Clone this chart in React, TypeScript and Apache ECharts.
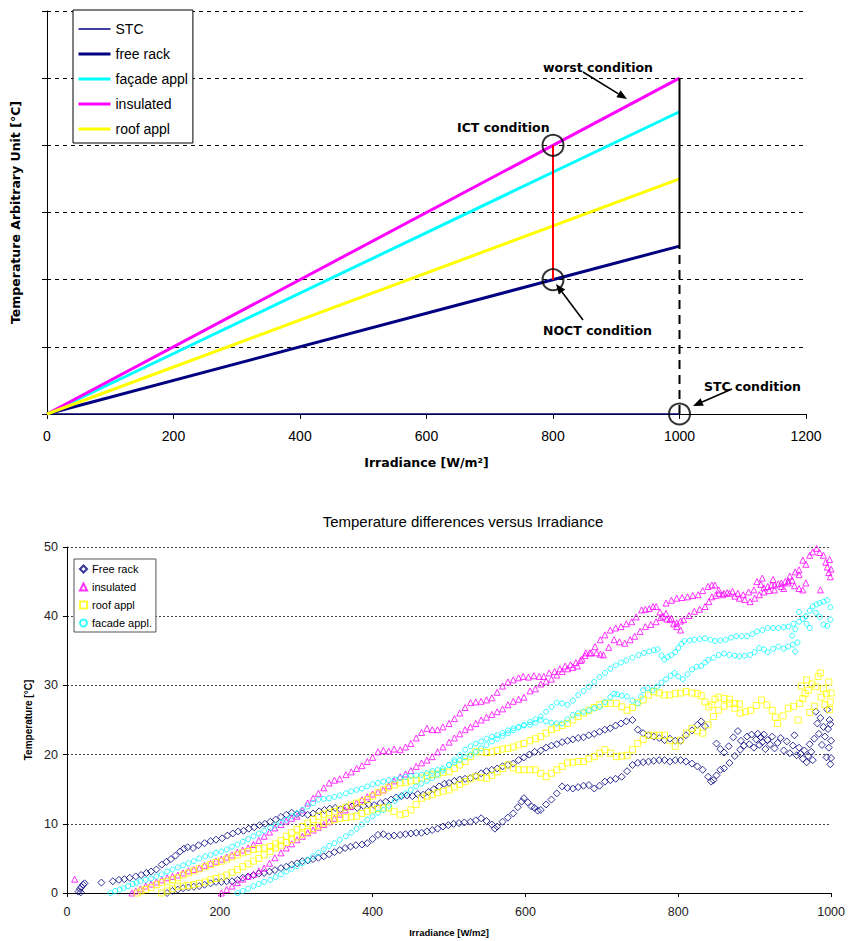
import React, { useEffect, useRef } from "react";
import * as echarts from "echarts";

// ---------- upper chart: idealised temperature rise vs irradiance ----------
const topIrradiance = [0, 1000];
const stcRise = [0, 0];
const freeRackRise = [0, 2.5];
const facadeRise = [0, 4.5];
const insulatedRise = [0, 5];
const roofRise = [0, 3.5];

const ictPoint = [800, 4];
const noctPoint = [800, 2];
const stcPoint = [1000, 0];
const worstPoint = [1000, 5];
const rackAtFullSun = [1000, 2.5];

const topLegendNames = ["STC", "free rack", "façade appl", "insulated", "roof appl"];
const topLegendWidths = [1.5, 3, 3, 3, 3];

// ---------- lower chart: measured temperature differences ----------
type Pt = [number, number];

const freeRackMorning: Pt[] = [
  [15,0.2],[17,0.6],[19,0.9],[21,1.2],[23,1.4],[18,0.1],[45,1.5],
  [60,1.7],[68,1.9],[75,2.0],[82,2.2],[90,2.4],[97,2.6],[104,2.9],[110,3.1],[117,3.4],[124,4.1],[130,4.5],
  [136,4.9],[142,5.4],[148,6.0],[153,6.4],[158,6.6],[165,6.5],[172,6.9],[180,7.2],[188,7.5],[195,7.7],
  [203,7.9],[210,8.3],[217,8.6],[224,8.9],[231,9.0],[238,9.3],[245,9.5],[252,9.8],[259,10.0],[266,10.3],
  [273,10.6],[280,11.0],[287,11.3],[294,11.6],[301,11.4],[308,11.5],[315,11.3],[322,11.5],[330,11.8],
  [337,12.0],[344,12.2],[351,12.3],[358,12.1],[366,12.4],[373,12.5],[380,12.3],[388,12.6],[395,12.8],
  [402,12.7],[410,13.0],[417,13.2],[424,13.5],[431,13.8],[438,14.0],[445,14.1],[452,14.0],[459,14.3],
  [466,14.2],[473,14.6],[480,15.0],[487,15.4],[494,15.8],[500,15.9],[507,16.2],[514,16.4],[521,16.5],
  [528,16.6],[535,16.9],[542,17.3],[549,17.6],[556,17.8],[563,18.0],[570,18.3],[577,18.5],[584,18.7],
  [591,19.2],[598,19.6],[605,20.0],[612,20.4],[620,20.6],[627,21.0],[634,21.3],[641,21.5],[648,21.8],
  [655,22.0],[662,22.2],[669,22.4],[676,22.5],[683,22.8],[690,23.0],[697,23.3],[704,23.6],[711,23.8],
  [718,24.2],[725,24.5],[732,24.8],[740,25.0],[747,23.6],[754,23.1],[761,22.8],[768,22.6],[775,22.4],
  [782,22.1],[789,22.3],[796,22.0],[803,22.0],[810,22.8],[818,23.5],[825,24.3],[830,24.8],[835,24.1]
];
const freeRackAfternoon: Pt[] = [
  [131,0.0],[138,0.3],[145,0.5],[152,0.7],[159,0.8],[166,0.9],[173,1.0],[180,1.2],[188,1.4],[195,1.6],
  [202,1.6],[209,1.7],[216,1.7],[223,1.9],[230,2.2],[237,2.4],[244,2.6],[251,2.8],[258,2.9],[265,3.1],
  [272,3.3],[280,3.6],[287,3.8],[294,4.1],[301,4.3],[308,4.6],[315,4.7],[322,4.9],[329,5.1],[336,5.3],
  [343,5.6],[350,5.9],[357,6.2],[364,6.5],[371,6.7],[378,6.9],[386,7.0],[393,7.2],[400,7.8],[407,8.4],
  [414,8.5],[421,8.2],[428,8.3],[436,8.4],[443,8.5],[450,8.6],[457,8.7],[464,8.7],[471,8.9],[478,9.1],
  [485,9.3],[492,9.6],[499,9.8],[506,10.0],[513,10.1],[520,10.2],[528,10.3],[535,10.5],[542,10.8],
  [549,10.4],[556,9.9],[560,9.3],[563,9.6],[570,10.3],[577,10.9],[584,11.5],[590,12.4],[595,13.2],
  [598,13.7],[603,13.1],[608,12.5],[612,12.3],[616,11.9],[620,12.0],[627,12.8],[634,13.5],[641,14.4],
  [648,15.4],[655,15.2],[662,15.1],[669,15.3],[676,15.5],[683,15.6],[690,15.1],[697,15.5],[704,16.1],
  [711,16.3],[718,16.5],[726,16.8],[733,17.6],[740,18.5],[747,18.8],[754,18.9],[761,19.0],[768,19.1],
  [775,19.2],[782,19.2],[789,19.0],[796,19.2],[803,19.2],[810,19.0],[818,18.7],[825,18.3],[832,17.8],
  [839,16.8],[843,16.1],[846,16.3],[850,17.0],[855,17.8],[860,18.0],[867,18.8],[874,19.8],[881,20.7]
];
const freeRackNoon: Pt[] = [
  [850,21.6],[855,20.8],[860,20.3],[866,21.2],[872,22.5],[878,23.4],[882,22.0],[886,21.3],[890,22.6],
  [893,21.5],[896,22.9],[899,21.0],[902,22.2],[904,23.0],[906,21.4],[908,22.5],[910,21.8],[912,22.9],
  [914,20.8],[917,22.1],[920,21.5],[923,22.6],[926,20.9],[930,21.7],[934,22.4],[938,20.6],[942,21.9],
  [946,20.2],[950,21.3],[952,22.8],[955,19.9],[958,21.0],[960,20.1],[963,19.4],[965,20.6],[968,18.9],
  [970,19.8],[972,21.5],[974,20.4],[976,19.2],[978,22.3],[980,26.2],[982,24.5],[984,23.0],[986,25.3],
  [988,21.4],[990,24.0],[992,22.6],[994,19.6],[995,26.5],[996,23.7],[997,21.0],[998,25.0],[999,18.6],
  [1000,22.0],[1000,19.5],[999,24.4]
];

const insulatedMorning: Pt[] = [
  [10,2.0],
  [85,0.0],[90,0.3],[96,0.6],[103,1.0],[110,1.3],[117,1.6],[124,1.9],[131,2.2],[138,2.4],[145,2.6],
  [152,2.9],[159,3.2],[166,3.4],[173,3.6],[180,4.0],[188,4.3],[195,4.6],[202,4.9],[209,5.2],[216,5.5],
  [223,5.9],[230,6.2],[237,6.5],[244,7.0],[251,7.6],[258,8.2],[265,8.8],[272,9.4],[280,9.9],[287,10.4],
  [294,10.8],[301,11.1],[308,12.0],[315,13.0],[322,13.7],[329,14.4],[336,15.2],[343,15.9],[350,16.3],
  [357,16.5],[365,17.1],[372,17.5],[379,18.0],[386,18.4],[393,19.0],[400,19.6],[407,20.4],[414,20.6],
  [421,20.5],[428,20.8],[436,20.7],[443,21.1],[450,21.6],[457,22.4],[464,23.2],[471,23.8],[478,23.6],
  [485,23.6],[492,24.0],[500,24.5],[507,25.2],[514,26.0],[521,26.8],[528,27.5],[535,27.6],[542,27.7],
  [549,27.9],[556,28.2],[563,29.0],[570,29.9],[577,30.5],[584,30.8],[591,31.1],[597,31.3],[604,31.2],
  [611,31.4],[618,31.3],[624,31.3],[631,31.8],[638,32.0],[645,32.4],[652,32.8],[659,33.0],[666,33.3],
  [672,33.6],[678,34.3],[684,34.7],[691,35.6],[698,36.6],[704,37.3],[711,38.0],[718,38.3],[725,38.5],
  [732,38.9],[739,39.2],[745,39.9],[752,40.9],[757,41.0],[762,41.1],[767,41.4],[771,41.4],[776,40.6],
  [780,40.0],[785,39.6],[789,39.5],[794,38.9],[798,38.5],[803,38.0]
];
const insulatedNoon: Pt[] = [
  [784,41.9],[791,42.3],[798,42.6],[805,42.7],[812,42.8],[819,43.0],[826,43.1],[832,43.7],[839,44.3],
  [844,44.5],[848,44.5],[853,43.8],[858,43.1],[864,43.4],[871,43.6],[878,43.3],[885,43.1],[892,43.5],
  [899,43.8],[903,45.0],[908,44.6],[912,44.1],[917,44.3],[922,44.5],[926,44.5],[931,44.7],[935,44.8],
  [940,45.0],[944,45.1],[949,45.2],[953,46.4],[958,46.7],[963,48.1],[967,47.5],[972,48.8],[976,49.3],
  [981,49.8],[985,49.2],[990,48.8],[993,47.8],[995,47.1],[997,46.3],[999,45.7],[1000,46.8],[998,48.2],
  [986,43.8],[967,44.8],[958,46.0],[946,45.8],[938,44.0],[924,45.3],[910,45.5]
];
const insulatedAfternoon: Pt[] = [
  [202,0.0],[209,0.5],[216,1.0],[223,1.5],[230,2.0],[237,2.4],[244,2.7],[251,3.2],[258,3.6],[265,4.3],
  [272,5.1],[280,5.8],[287,6.5],[294,7.1],[301,7.7],[308,8.2],[315,8.7],[322,9.1],[329,9.5],[336,9.9],
  [343,10.3],[350,10.8],[357,11.4],[364,12.0],[371,12.5],[379,13.0],[386,13.5],[393,13.9],[400,14.3],
  [407,14.6],[414,14.9],[421,15.5],[428,16.2],[436,16.8],[443,17.2],[450,17.7],[457,18.3],[464,18.8],
  [471,19.2],[478,19.7],[485,20.4],[492,21.1],[500,21.8],[507,22.4],[514,23.0],[521,23.6],[528,24.0],
  [535,24.5],[542,25.0],[549,25.4],[556,25.8],[563,26.2],[570,26.6],[577,27.2],[584,27.7],[591,28.0],
  [598,28.3],[606,29.2],[613,29.5],[620,30.2],[627,30.6],[634,30.9],[641,31.5],[648,32.0],[655,32.4],
  [662,32.6],[668,32.8],[674,33.8],[679,34.7],[686,34.7],[693,34.7],[698,34.5],[702,34.4],[709,35.5],
  [716,36.6],[723,36.3],[730,36.1],[737,36.6],[743,37.1],[750,37.8],[757,38.5],[764,38.8],[771,39.2],
  [777,39.8],[784,40.4],[791,39.7],[798,39.0],[803,39.3],[807,39.5],[814,40.1],[821,40.7],[828,41.0],
  [835,41.4],[840,42.1],[844,42.8],[849,43.0],[853,43.3],[860,43.3],[867,43.3],[874,42.9],[880,42.6],
  [887,42.4],[894,42.1],[900,42.6],[906,43.1],[912,43.5],[919,43.7],[926,43.8],[935,44.3],[944,44.8],
  [952,44.4],[958,44.0],[963,43.8]
];

const roofMorning: Pt[] = [
  [92,0.0],[97,0.3],[103,0.5],[110,0.8],[117,1.2],[124,1.5],[131,1.7],[138,1.9],[145,2.2],[152,2.6],
  [159,2.9],[166,3.2],[173,3.5],[181,3.8],[188,4.1],[195,4.4],[202,4.6],[209,4.9],[216,5.2],[223,5.5],
  [230,5.8],[237,6.0],[244,6.3],[251,6.4],[258,6.5],[266,6.7],[273,7.1],[280,7.6],[287,8.2],[294,8.7],
  [301,9.2],[308,9.6],[315,10.1],[322,10.6],[329,11.1],[336,11.4],[343,11.6],[350,11.8],[357,12.1],
  [365,12.4],[372,12.7],[379,13.0],[386,13.2],[393,13.5],[400,14.0],[407,14.5],[414,14.9],[421,15.3],
  [429,15.6],[436,15.9],[443,16.0],[450,16.2],[457,16.3],[464,16.6],[471,16.9],[478,17.1],[485,17.2],
  [492,17.4],[500,17.5],[507,18.0],[514,18.5],[521,19.0],[528,19.7],[535,20.4],[542,20.4],[549,20.3],
  [556,20.4],[563,20.6],[570,20.8],[577,20.9],[584,21.1],[591,21.4],[598,21.6],[606,22.0],[613,22.3],
  [620,22.6],[627,23.1],[634,23.6],[641,23.9],[648,24.2],[655,24.5],[662,25.0],[669,25.5],[676,26.0],
  [683,26.4],[690,26.8],[697,27.2],[704,27.4],[711,27.4],[719,27.4],[726,26.9],[733,26.4],[740,26.8],
  [747,27.5],[754,27.9],[761,28.6],[768,29.1],[775,28.9],[782,28.6],[789,28.6],[796,28.8],[803,28.9],
  [810,29.1],[818,28.9],[825,28.8],[830,28.5],[835,27.6],[840,26.9],[844,27.2],[848,28.0],[853,28.3],
  [860,28.1],[867,28.0],[874,27.4],[880,27.3]
];
const roofAfternoon: Pt[] = [
  [124,0.0],[131,0.3],[138,0.6],[145,1.0],[152,1.0],[159,1.1],[166,1.2],[173,1.4],[181,1.6],[188,1.9],
  [195,2.1],[202,2.3],[209,2.6],[216,3.0],[223,3.4],[230,3.8],[237,4.2],[244,4.6],[251,5.0],[258,5.5],
  [266,6.0],[273,6.5],[280,6.9],[287,7.3],[294,7.7],[301,8.1],[308,8.5],[315,8.9],[322,9.3],[329,9.7],
  [336,10.1],[343,10.4],[350,10.6],[357,10.8],[365,10.9],[372,11.0],[379,11.1],[386,11.5],[393,11.8],
  [400,12.0],[407,12.2],[414,12.3],[421,12.3],[428,11.8],[436,11.3],[443,11.5],[450,12.0],[457,12.8],
  [464,13.7],[471,14.0],[478,14.2],[485,14.5],[492,14.7],[500,14.9],[507,15.3],[514,15.7],[521,16.1],
  [528,16.5],[535,16.8],[542,16.7],[549,16.6],[556,17.0],[563,17.5],[570,18.0],[577,18.5],[584,18.1],
  [591,17.8],[598,17.8],[606,17.8],[613,17.8],[620,17.3],[627,16.8],[634,17.3],[641,17.8],[648,18.3],
  [655,18.8],[662,18.9],[669,19.0],[676,19.0],[683,19.4],[690,19.7],[697,20.2],[704,20.7],[711,20.2],
  [719,19.7],[726,19.8],[733,19.9],[740,20.7],[747,21.6],[754,22.2],[761,22.8],[768,22.8],[775,22.8],
  [782,22.8],[789,22.0],[796,21.2],[803,22.1],[811,23.1],[818,23.8],[825,23.4],[832,23.1],[839,24.3],
  [846,25.5],[853,26.4],[860,27.0],[867,27.4],[874,26.7],[881,26.0],[888,26.2],[895,26.4],[902,27.1],
  [909,27.9],[916,27.2],[923,26.4],[927,25.4],[930,24.5],[937,25.6],[944,26.7],[951,27.0],[959,27.4],
  [963,28.1],[966,28.8],[970,29.3],[975,30.2],[980,29.8],[983,31.3],[986,31.8],[990,29.5],[994,28.8],
  [997,30.5],[999,27.6],[1000,28.9],[998,26.5],[992,27.2],[987,28.3],[978,27.0],[972,26.1],[968,30.8],
  [961,29.9],[957,25.0]
];

const facadeMorning: Pt[] = [
  [57,0.0],[63,0.3],[69,0.5],[74,0.7],[80,1.0],[86,1.3],[91,1.5],[96,1.7],[103,1.9],[110,2.1],[117,2.4],
  [124,2.7],[131,3.1],[138,3.4],[145,3.7],[152,4.0],[159,4.3],[166,4.6],[173,5.0],[181,5.3],[188,5.5],
  [195,5.8],[202,6.0],[209,6.3],[216,6.7],[223,7.0],[230,7.4],[237,7.8],[244,8.2],[251,8.6],[258,9.0],
  [266,9.4],[273,9.8],[280,10.2],[287,10.6],[294,11.1],[301,11.5],[308,12.0],[315,12.5],[322,13.0],
  [329,13.5],[336,13.6],[343,13.7],[350,13.9],[357,14.1],[365,14.4],[372,14.7],[379,14.9],[386,15.1],
  [393,15.4],[400,15.7],[407,15.9],[414,16.1],[421,16.3],[429,16.4],[436,16.6],[443,16.8],[450,16.9],
  [457,17.0],[464,17.1],[471,17.3],[478,17.6],[485,17.8],[492,18.0],[500,18.5],[507,18.9],[514,19.2],
  [521,19.6],[528,20.0],[535,20.4],[542,20.9],[549,21.4],[556,21.9],[563,22.3],[570,22.7],[577,23.1],
  [584,23.5],[591,23.9],[598,24.3],[606,24.7],[613,25.1],[620,25.5],[627,26.2],[634,26.9],[641,27.5],
  [648,27.4],[655,27.2],[662,27.8],[669,28.6],[676,29.2],[683,29.8],[690,30.5],[697,31.2],[704,31.8],
  [711,32.4],[718,32.9],[725,33.3],[732,33.6],[740,34.0],[748,34.4],[755,34.7],[762,34.9],[768,35.1],
  [773,35.2],[778,34.3],[782,33.7],[786,34.1],[791,34.4],[796,34.8],[800,35.4],[804,36.0],[808,36.4],
  [815,36.5],[821,36.6],[828,36.7],[835,36.8],[842,36.6],[848,36.4],[855,36.5],[862,36.6],[869,36.9],
  [876,37.1],[883,37.1],[890,37.1],[897,37.4],[903,37.8],[910,38.0],[917,38.3],[924,38.3],[931,38.3],
  [938,38.4],[944,38.5],[951,38.9],[958,39.2],[963,39.6],[967,40.0],[972,40.8],[976,41.4],[981,41.7],
  [985,41.9],[990,42.1],[995,42.3],[999,41.3],[999,39.5],[995,38.6],[990,38.8],[985,39.9],[980,40.5],
  [972,38.3],[968,38.9],[958,40.6],[953,38.1],[949,37.2]
];
const facadeAfternoon: Pt[] = [
  [223,0.0],[230,0.3],[237,0.6],[244,1.0],[251,1.3],[258,1.6],[266,1.9],[273,2.3],[280,2.7],[287,3.1],
  [294,3.5],[301,3.9],[308,4.3],[315,4.8],[322,5.3],[329,5.8],[336,6.3],[343,6.8],[350,7.2],[357,7.7],
  [365,8.2],[372,8.7],[379,9.3],[386,9.9],[393,10.6],[400,11.1],[407,11.6],[414,12.0],[421,12.6],
  [429,13.3],[436,13.9],[443,14.4],[450,14.9],[457,15.4],[464,15.8],[471,16.2],[478,16.6],[485,17.1],
  [492,17.7],[500,18.5],[507,19.2],[514,19.9],[521,20.7],[528,21.2],[535,21.6],[542,21.9],[549,22.3],
  [556,22.6],[563,22.8],[570,23.1],[577,23.5],[584,23.8],[591,24.0],[598,24.2],[606,24.3],[613,24.6],
  [620,25.0],[627,24.8],[634,24.6],[641,24.5],[648,24.5],[655,25.1],[662,25.7],[669,26.0],[676,26.2],
  [683,26.4],[690,26.7],[697,26.9],[704,27.6],[711,28.3],[716,28.8],[720,28.7],[726,28.5],[733,28.4],
  [740,27.8],[747,27.4],[751,28.4],[754,29.3],[760,29.6],[766,29.3],[772,29.8],[778,30.4],[784,30.9],
  [790,31.4],[795,31.8],[800,31.3],[806,30.9],[812,31.6],[818,32.3],[824,32.7],[830,32.8],[835,33.3],
  [839,33.7],[846,34.0],[853,34.4],[860,34.6],[867,34.4],[874,34.3],[880,34.2],[887,34.3],[894,34.4],
  [900,34.8],[906,35.4],[912,35.2],[917,34.8],[924,35.3],[931,35.6],[938,35.3],[944,35.6],[950,35.9],
  [953,34.9],[956,36.2]
];

// legend entries of the lower chart; keys keep them apart from the upper chart's series
const measuredLabels: Record<string, string> = {
  m_free: "Free rack",
  m_insulated: "insulated",
  m_roof: "roof appl",
  m_facade: "facade appl.",
};

const SANS = "'Liberation Sans', Arial, sans-serif";
const BOLD_FONT = "bold 12.5px 'DejaVu Sans', Verdana, sans-serif";

function arrow(x1: number, y1: number, x2: number, y2: number) {
  const dx = x2 - x1;
  const dy = y2 - y1;
  const len = Math.hypot(dx, dy);
  const ux = dx / len;
  const uy = dy / len;
  const hl = 10;
  const hw = 4;
  const bx = x2 - ux * hl;
  const by = y2 - uy * hl;
  return [
    { type: "line", z: 100, shape: { x1, y1, x2: bx, y2: by }, style: { stroke: "#000", lineWidth: 1.5 } },
    {
      type: "polygon",
      z: 100,
      shape: { points: [[x2, y2], [bx - uy * hw, by + ux * hw], [bx + uy * hw, by - ux * hw]] },
      style: { fill: "#000" },
    },
  ];
}

function label(text: string, x: number, y: number) {
  return {
    type: "text",
    z: 100,
    x,
    y,
    style: { text, font: BOLD_FONT, fill: "#000", align: "left", verticalAlign: "middle" },
  };
}

function riseLine(name: string, values: number[], color: string, width: number) {
  return {
    name,
    type: "line",
    xAxisIndex: 0,
    yAxisIndex: 0,
    symbol: "none",
    data: topIrradiance.map((g, i) => [g, values[i]]),
    lineStyle: { color, width },
    itemStyle: { color },
  };
}

function measured(name: string, data: Pt[], symbol: string, color: string, size: number) {
  return {
    name,
    type: "scatter",
    xAxisIndex: 1,
    yAxisIndex: 1,
    symbol,
    symbolSize: size,
    data,
    itemStyle: { color: "rgba(0,0,0,0)", borderColor: color, borderWidth: 1 },
  };
}

const plainNumber = (v: number) => String(v);

export default function App() {
  const ref = useRef<HTMLDivElement>(null);

  useEffect(() => {
    if (!ref.current) return;
    const chart = echarts.init(ref.current, undefined, { renderer: "svg" });

    const option: any = {
      animation: false,
      backgroundColor: "#fff",
      textStyle: { fontFamily: SANS },
      grid: [
        { left: 47, top: 11, width: 759, height: 403 },
        { left: 67, top: 547, width: 765, height: 346 },
      ],
      xAxis: [
        {
          gridIndex: 0,
          type: "value",
          min: 0,
          max: 1200,
          interval: 200,
          axisLine: { lineStyle: { color: "#000", width: 1 } },
          axisTick: { show: true, length: 5, lineStyle: { color: "#000" } },
          axisLabel: { fontSize: 14, color: "#000", margin: 15, fontFamily: SANS, formatter: plainNumber },
          splitLine: { show: false },
          name: "Irradiance [W/m²]",
          nameLocation: "middle",
          nameGap: 42,
          nameTextStyle: { fontFamily: "'DejaVu Sans'", fontWeight: "bold", fontSize: 12.5, color: "#000" },
        },
        {
          gridIndex: 1,
          type: "value",
          min: 0,
          max: 1000,
          interval: 200,
          axisLine: { lineStyle: { color: "#000", width: 1 } },
          axisTick: { show: true, length: 4, lineStyle: { color: "#000" } },
          axisLabel: { fontSize: 12.5, color: "#222", margin: 12, fontFamily: SANS, formatter: plainNumber },
          splitLine: { show: false },
          name: "Irradiance [W/m2]",
          nameLocation: "middle",
          nameGap: 34,
          nameTextStyle: { fontFamily: SANS, fontWeight: "bold", fontSize: 9.5, color: "#000" },
        },
      ],
      yAxis: [
        {
          gridIndex: 0,
          type: "value",
          min: 0,
          max: 6,
          interval: 1,
          axisLine: { show: true, lineStyle: { color: "#000", width: 1 } },
          axisTick: { show: true, length: 5, lineStyle: { color: "#000" } },
          axisLabel: { show: false },
          splitLine: { show: true, lineStyle: { color: "#000", type: [4, 4], width: 1 } },
          name: "Temperature Arbitrary Unit [°C]",
          nameLocation: "middle",
          nameGap: 25,
          nameTextStyle: { fontFamily: "'DejaVu Sans'", fontWeight: "bold", fontSize: 12.5, color: "#000" },
        },
        {
          gridIndex: 1,
          type: "value",
          min: 0,
          max: 50,
          interval: 10,
          axisLine: { show: true, lineStyle: { color: "#000", width: 1 } },
          axisTick: { show: true, length: 4, lineStyle: { color: "#000" } },
          axisLabel: { fontSize: 12.5, color: "#222", margin: 9, fontFamily: SANS },
          splitLine: { show: true, lineStyle: { color: "#444", type: [2, 2], width: 1 } },
          name: "Temperature [°C]",
          nameLocation: "middle",
          nameGap: 30,
          nameTextStyle: { fontFamily: SANS, fontWeight: "bold", fontSize: 10, color: "#000" },
        },
      ],
      legend: [
        {
          data: topLegendNames.map((name, i) => ({
            name,
            lineStyle: { width: topLegendWidths[i] },
            itemStyle: { opacity: 0 },
          })),
          orient: "vertical",
          left: 73,
          top: 10,
          padding: [12, 5, 7, 4],
          itemWidth: 32,
          itemHeight: 14,
          itemGap: 11,
          itemStyle: { opacity: 0 },
          backgroundColor: "#fff",
          borderColor: "#000",
          borderWidth: 1,
          textStyle: { fontSize: 14, lineHeight: 14, color: "#000", fontFamily: SANS },
        },
        {
          data: Object.keys(measuredLabels),
          formatter: (n: string) => measuredLabels[n],
          orient: "vertical",
          left: 74,
          top: 559,
          padding: [4, 4, 3, 5],
          itemWidth: 7,
          itemHeight: 7,
          itemGap: 6,
          backgroundColor: "#fff",
          borderColor: "#555",
          borderWidth: 1,
          textStyle: { fontSize: 11, lineHeight: 12, color: "#000", fontFamily: SANS },
        },
      ],
      series: [
        riseLine("STC", stcRise, "#000080", 1.5),
        riseLine("free rack", freeRackRise, "#000080", 3),
        riseLine("façade appl", facadeRise, "#00FFFF", 3),
        riseLine("insulated", insulatedRise, "#FF00FF", 3),
        riseLine("roof appl", roofRise, "#FFFF00", 3),
        {
          type: "line",
          xAxisIndex: 0,
          yAxisIndex: 0,
          symbol: "none",
          data: [noctPoint, ictPoint],
          lineStyle: { color: "#FF0000", width: 2 },
        },
        {
          type: "line",
          xAxisIndex: 0,
          yAxisIndex: 0,
          symbol: "none",
          data: [rackAtFullSun, worstPoint],
          lineStyle: { color: "#000", width: 2 },
        },
        {
          type: "line",
          xAxisIndex: 0,
          yAxisIndex: 0,
          symbol: "none",
          data: [stcPoint, rackAtFullSun],
          lineStyle: { color: "#000", width: 2, type: [9, 6] },
        },
        {
          type: "scatter",
          xAxisIndex: 0,
          yAxisIndex: 0,
          symbol: "circle",
          symbolSize: 21,
          z: 5,
          data: [ictPoint, noctPoint, stcPoint],
          itemStyle: { color: "rgba(0,0,0,0)", borderColor: "#000", borderWidth: 2 },
        },
        measured("m_free", [...freeRackMorning, ...freeRackAfternoon, ...freeRackNoon], "diamond", "#000080", 7),
        measured("m_insulated", [...insulatedMorning, ...insulatedAfternoon, ...insulatedNoon], "triangle", "#FF00FF", 6),
        measured("m_roof", [...roofMorning, ...roofAfternoon], "rect", "#FFFF00", 6),
        measured("m_facade", [...facadeMorning, ...facadeAfternoon], "circle", "#00FFFF", 5),
      ],
      graphic: [
        label("worst condition", 543, 67),
        ...arrow(583, 72, 627, 99),
        label("ICT condition", 457, 127),
        label("NOCT condition", 543, 330),
        ...arrow(583, 320, 556, 284),
        label("STC condition", 704, 386),
        ...arrow(732, 389, 693, 406),
        {
          type: "text",
          z: 100,
          x: 463,
          y: 521,
          style: {
            text: "Temperature differences versus Irradiance",
            font: `15px ${SANS}`,
            fill: "#000",
            align: "center",
            verticalAlign: "middle",
          },
        },
      ],
    };

    chart.setOption(option);
    return () => chart.dispose();
  }, []);

  return (
    <div
      ref={ref}
      style={{ position: "absolute", left: 0, top: 0, width: 848, height: 941, background: "#fff" }}
    />
  );
}
